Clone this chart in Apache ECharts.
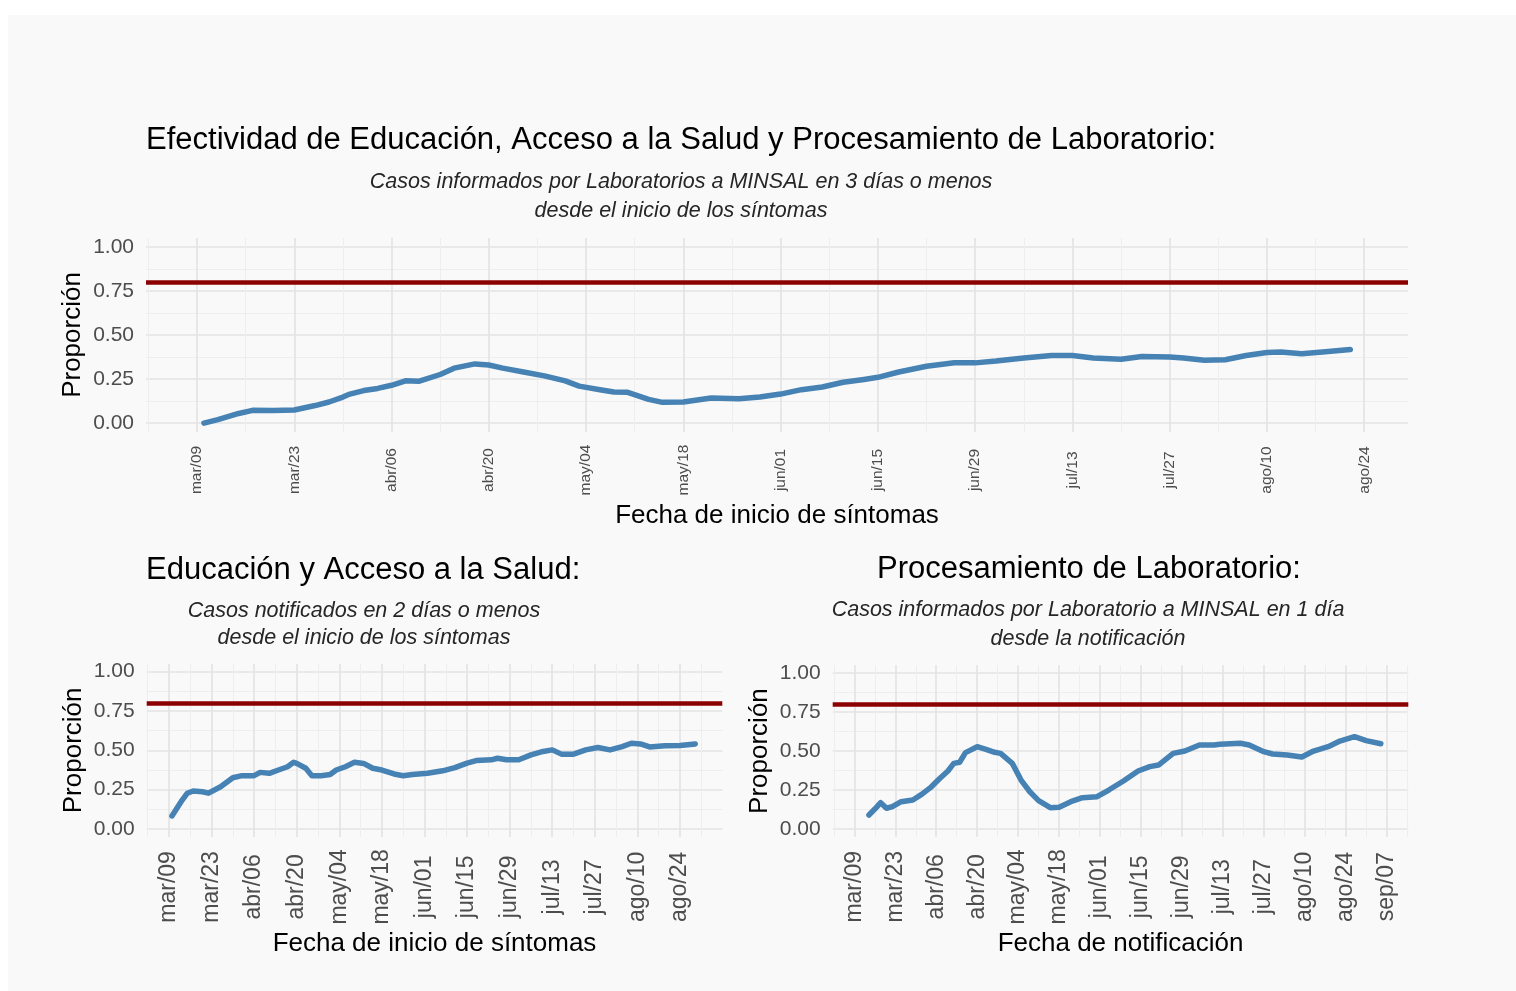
<!DOCTYPE html>
<html lang="es">
<head>
<meta charset="utf-8">
<title>Efectividad de Educación, Acceso a la Salud y Procesamiento de Laboratorio</title>
<script src="https://cdn.jsdelivr.net/npm/echarts@6/dist/echarts.min.js"></script>
<style>
  html, body { margin: 0; padding: 0; background: #ffffff; }
  #chart { width: 1516px; height: 991px; }
</style>
</head>
<body>
<div id="chart"></div>
<script>
/* ==========================================================================
   Proporción de casos informados a tiempo — tres paneles con ECharts
   Eje x en días desde mar/09; meta fija en 0.80
   ========================================================================== */

// ── Data ───────────────────────────────────────────────────────────────────

var tickDays   = [0, 14, 28, 42, 56, 70, 84, 98, 112, 126, 140, 154, 168, 182];
var tickLabels = ['mar/09', 'mar/23', 'abr/06', 'abr/20', 'may/04', 'may/18', 'jun/01',
                  'jun/15', 'jun/29', 'jul/13', 'jul/27', 'ago/10', 'ago/24', 'sep/07'];
var yTicks = [0, 0.25, 0.5, 0.75, 1];
var targetLevel = 0.8;

// Casos informados por Laboratorios a MINSAL en 3 días o menos
var topDays = [1, 3, 6, 8, 11, 14, 17, 19, 21, 22, 24, 26, 28, 30, 32, 35, 37, 40, 42, 44,
               47, 50, 53, 55, 58, 60, 62, 65, 67, 70, 74, 78, 81, 84, 87, 90, 93, 96, 98, 101,
               105, 109, 112, 115, 119, 123, 126, 129, 133, 136, 140, 142, 145, 148, 151, 154, 156, 159, 162, 166];
var topValues = [0.00, 0.02, 0.055, 0.073, 0.072, 0.075, 0.10, 0.12, 0.148, 0.165, 0.185, 0.197, 0.215, 0.24, 0.238, 0.276, 0.312, 0.336, 0.33, 0.312,
                 0.29, 0.268, 0.24, 0.21, 0.19, 0.177, 0.175, 0.135, 0.118, 0.12, 0.143, 0.138, 0.148, 0.165, 0.19, 0.205, 0.232, 0.248, 0.26, 0.29,
                 0.323, 0.343, 0.342, 0.352, 0.37, 0.384, 0.384, 0.37, 0.362, 0.378, 0.375, 0.369, 0.357, 0.36, 0.384, 0.401, 0.403, 0.394, 0.403, 0.418];

// Casos notificados en 2 días o menos
var leftDays = [1, 4, 6, 8, 11, 13, 17, 21, 24, 28, 30, 33, 36, 39, 41, 42, 45, 47, 50, 53,
                55, 58, 61, 64, 67, 70, 74, 77, 80, 85, 90, 94, 98, 101, 106, 108, 111, 115, 119, 123,
                126, 129, 133, 137, 141, 145, 149, 152, 155, 158, 163, 168, 173];
var leftValues = [0.083, 0.174, 0.227, 0.242, 0.237, 0.228, 0.269, 0.326, 0.339, 0.339, 0.36, 0.354, 0.375, 0.396, 0.424, 0.417, 0.386, 0.339, 0.339, 0.347,
                  0.375, 0.396, 0.424, 0.417, 0.386, 0.375, 0.35, 0.339, 0.347, 0.354, 0.37, 0.39, 0.419, 0.435, 0.44, 0.45, 0.44, 0.44, 0.471, 0.493,
                  0.503, 0.476, 0.476, 0.503, 0.518, 0.503, 0.524, 0.545, 0.541, 0.522, 0.529, 0.531, 0.541];

// Casos informados por Laboratorio a MINSAL en 1 día
var rightDays = [5, 7, 9, 11, 13, 16, 20, 23, 26, 29, 32, 34, 36, 38, 42, 45, 48, 50, 54, 57,
                 60, 63, 67, 70, 74, 78, 83, 87, 92, 97, 101, 104, 109, 113, 118, 123, 125, 132, 135, 140,
                 143, 148, 153, 157, 162, 166, 171, 175, 180];
var rightValues = [0.09, 0.128, 0.169, 0.133, 0.143, 0.175, 0.186, 0.222, 0.265, 0.321, 0.372, 0.421, 0.428, 0.49, 0.528, 0.511, 0.492, 0.485, 0.421, 0.314,
                   0.239, 0.182, 0.137, 0.139, 0.175, 0.201, 0.207, 0.25, 0.308, 0.372, 0.40, 0.41, 0.485, 0.50, 0.539, 0.539, 0.543, 0.55, 0.539, 0.496,
                   0.481, 0.475, 0.462, 0.50, 0.528, 0.564, 0.592, 0.567, 0.547];

// ── Style ──────────────────────────────────────────────────────────────────

var FONT = '"Liberation Sans", Arial, Helvetica, sans-serif';
var colors = {
  card:      '#f9f9f9',
  gridMajor: '#e3e3e3',
  gridMinor: '#eeeeee',
  line:      '#4682b4',
  target:    '#8b0000',
  tickText:  '#4d4d4d',
  text:      '#000000',
  subtitle:  '#262626',
};

var panels = [
  { days: topDays, values: topValues,
    left: 146, top: 238, width: 1262, height: 194,
    xMin: -7.34, xMax: 174.3,
    labelSize: 15.5, labelMargin: 38,
    xName: 'Fecha de inicio de síntomas', xNameGap: 71 },
  { days: leftDays, values: leftValues,
    left: 146.7, top: 663.8, width: 575.6, height: 173.1,
    xMin: -7.3, xMax: 181.9,
    labelSize: 23, labelMargin: 50,
    xName: 'Fecha de inicio de síntomas', xNameGap: 94 },
  { days: rightDays, values: rightValues,
    left: 832.7, top: 665.3, width: 575.6, height: 171.5,
    xMin: -7.4, xMax: 189.4,
    labelSize: 23, labelMargin: 50,
    xName: 'Fecha de notificación', xNameGap: 94 },
];

// ── Helpers ────────────────────────────────────────────────────────────────

function inRange(list, lo, hi) {
  return list.filter(function (v) { return v >= lo && v <= hi; });
}

function dayLabel(v) {
  var i = tickDays.indexOf(v);
  return i < 0 ? '' : tickLabels[i];
}

function buildAxes(p, idx) {
  var majorX = inRange(tickDays, p.xMin, p.xMax);
  var minorX = inRange(tickDays.map(function (d) { return d - 7; })
    .concat([tickDays[tickDays.length - 1] + 7]), p.xMin, p.xMax);
  var minorY = yTicks.slice(1).map(function (v, i) { return (v + yTicks[i]) / 2; });

  var xMinor = {
    type: 'value', gridIndex: idx, position: 'bottom', min: p.xMin, max: p.xMax,
    axisLine: { show: false },
    axisTick: { show: false, customValues: minorX },
    axisLabel: { show: false },
    splitLine: { show: true, lineStyle: { color: colors.gridMinor, width: 1 } },
  };
  var xMajor = {
    type: 'value', gridIndex: idx, position: 'bottom', offset: 0, min: p.xMin, max: p.xMax,
    axisLine: { show: false },
    axisTick: { show: false, customValues: majorX },
    axisLabel: {
      customValues: majorX,
      formatter: dayLabel,
      rotate: 90, align: 'center', verticalAlign: 'middle',
      margin: p.labelMargin,
      color: colors.tickText, fontFamily: FONT, fontSize: p.labelSize,
    },
    splitLine: { show: true, lineStyle: { color: colors.gridMajor, width: 1.6 } },
    name: p.xName, nameLocation: 'middle', nameGap: p.xNameGap, nameMoveOverlap: false,
    nameTextStyle: { color: colors.text, fontFamily: FONT, fontSize: 26 },
  };
  var yMinor = {
    type: 'value', gridIndex: idx, position: 'left', min: -0.05, max: 1.05,
    axisLine: { show: false },
    axisTick: { show: false, customValues: minorY },
    axisLabel: { show: false },
    splitLine: { show: true, lineStyle: { color: colors.gridMinor, width: 1 } },
  };
  var yMajor = {
    type: 'value', gridIndex: idx, position: 'left', offset: 0, min: -0.05, max: 1.05,
    axisLine: { show: false },
    axisTick: { show: false, customValues: yTicks },
    axisLabel: {
      customValues: yTicks,
      formatter: function (v) { return v.toFixed(2); },
      margin: 12,
      color: colors.tickText, fontFamily: FONT, fontSize: 21,
    },
    splitLine: { show: true, lineStyle: { color: colors.gridMajor, width: 1.6 } },
    name: 'Proporción', nameLocation: 'middle', nameGap: 60, nameMoveOverlap: false,
    nameTextStyle: { color: colors.text, fontFamily: FONT, fontSize: 26 },
  };
  return { x: [xMinor, xMajor], y: [yMinor, yMajor] };
}

function buildSeries(p, idx) {
  var points = p.days.map(function (d, i) { return [d, p.values[i]]; });
  return {
    type: 'line',
    xAxisIndex: idx * 2 + 1,
    yAxisIndex: idx * 2 + 1,
    data: points,
    symbol: 'none',
    smooth: false,
    lineStyle: { color: colors.line, width: 5.5, cap: 'round', join: 'round' },
    markLine: {
      silent: true,
      symbol: 'none',
      label: { show: false },
      lineStyle: { color: colors.target, width: 4.5, type: 'solid' },
      data: [{ yAxis: targetLevel }],
    },
  };
}

function textEl(x, y, text, size, align, italic, color) {
  return {
    type: 'text', x: x, y: y, silent: true,
    style: {
      text: text,
      font: (italic ? 'italic ' : '') + size + 'px ' + FONT,
      fill: color,
      align: align,
      verticalAlign: 'middle',
    },
  };
}

// ── Initialize ─────────────────────────────────────────────────────────────

function ready(fn) {
  if (document.readyState !== 'loading') fn();
  else document.addEventListener('DOMContentLoaded', fn);
}

ready(function () {
  var el = document.getElementById('chart');
  var chart = echarts.init(el, null, { renderer: 'canvas' });

  var grids = [], xAxes = [], yAxes = [], series = [];
  panels.forEach(function (p, i) {
    grids.push({ left: p.left, top: p.top, width: p.width, height: p.height,
                 containLabel: false, outerBoundsMode: 'none' });
    var axes = buildAxes(p, i);
    xAxes = xAxes.concat(axes.x);
    yAxes = yAxes.concat(axes.y);
    series.push(buildSeries(p, i));
  });

  chart.setOption({
    backgroundColor: colors.card,
    animation: false,
    grid: grids,
    xAxis: xAxes,
    yAxis: yAxes,
    series: series,
    graphic: [
      // white margin around the card
      { type: 'rect', shape: { x: 0, y: 0, width: 1516, height: 15 }, style: { fill: '#ffffff' }, silent: true },
      { type: 'rect', shape: { x: 0, y: 0, width: 8, height: 991 }, style: { fill: '#ffffff' }, silent: true },

      textEl(146, 140, 'Efectividad de Educación, Acceso a la Salud y Procesamiento de Laboratorio:', 31, 'left', false, colors.text),
      textEl(681, 182, 'Casos informados por Laboratorios a MINSAL en 3 días o menos', 21.5, 'center', true, colors.subtitle),
      textEl(681, 211, 'desde el inicio de los síntomas', 21.5, 'center', true, colors.subtitle),

      textEl(146, 570, 'Educación y Acceso a la Salud:', 31, 'left', false, colors.text),
      textEl(364, 611, 'Casos notificados en 2 días o menos', 21.5, 'center', true, colors.subtitle),
      textEl(364, 638, 'desde el inicio de los síntomas', 21.5, 'center', true, colors.subtitle),

      textEl(877, 569, 'Procesamiento de Laboratorio:', 31, 'left', false, colors.text),
      textEl(1088, 610, 'Casos informados por Laboratorio a MINSAL en 1 día', 21.5, 'center', true, colors.subtitle),
      textEl(1088, 639, 'desde la notificación', 21.5, 'center', true, colors.subtitle),
    ],
  });

  window.addEventListener('resize', function () { chart.resize(); });
});
</script>
</body>
</html>
